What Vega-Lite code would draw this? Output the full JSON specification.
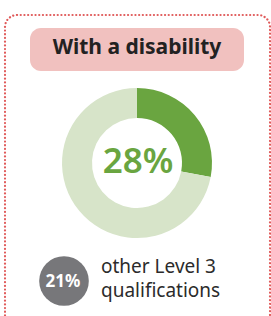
{
  "$schema": "https://vega.github.io/schema/vega-lite/v6.json",
  "width": 271,
  "height": 316,
  "autosize": {"type": "fit", "contains": "padding"},
  "padding": 0,
  "background": "#ffffff",
  "config": {"view": {"stroke": null}},
  "data": {"values": [{"group": "With a disability", "share": 0.28, "other": 0.21, "otherLabel": ["other Level 3", "qualifications"]}]},
  "layer": [
    {
      "mark": {"type": "rect", "x": 5, "x2": 270, "y": 15, "y2": 360, "cornerRadius": 12, "fill": null, "stroke": "#e05a5a", "strokeWidth": 2.2, "strokeDash": [0.1, 3.6], "strokeCap": "round"},
      "encoding": {}
    },
    {
      "mark": {"type": "rect", "x": 30, "x2": 244, "y": 28, "y2": 71, "cornerRadius": 11, "fill": "#f1c1bf"},
      "encoding": {}
    },
    {
      "mark": {"type": "text", "x": 137, "y": 48, "align": "center", "baseline": "middle", "font": "Noto Sans", "fontWeight": "bold", "fontSize": 21, "fill": "#222222"},
      "encoding": {"text": {"field": "group"}}
    },
    {
      "data": {"values": [{"part": "Level 3 qualification", "value": 28}, {"part": "Remaining", "value": 72}]},
      "mark": {"type": "arc", "x": 137, "y": 163, "outerRadius": 75, "innerRadius": 45},
      "encoding": {
        "theta": {"field": "value", "type": "quantitative", "stack": true},
        "order": {"field": "value", "type": "quantitative", "sort": "ascending"},
        "color": {"field": "part", "type": "nominal", "scale": {"domain": ["Level 3 qualification", "Remaining"], "range": ["#6aa540", "#d7e4c9"]}, "legend": null}
      }
    },
    {
      "mark": {"type": "text", "x": 138, "y": 162, "align": "center", "baseline": "middle", "font": "Noto Sans", "fontWeight": 600, "fontSize": 35, "fill": "#6aa540"},
      "encoding": {"text": {"field": "share", "type": "quantitative", "format": ".0%"}}
    },
    {
      "mark": {"type": "point", "x": 64, "y": 281, "shape": "circle", "filled": true, "size": 2463, "fill": "#77777a", "stroke": null, "opacity": 1},
      "encoding": {}
    },
    {
      "mark": {"type": "text", "x": 63, "y": 282, "align": "center", "baseline": "middle", "font": "Noto Sans", "fontWeight": "bold", "fontSize": 17, "fill": "#ffffff"},
      "encoding": {"text": {"field": "other", "type": "quantitative", "format": ".0%"}}
    },
    {
      "mark": {"type": "text", "x": 101, "y": 273, "align": "left", "baseline": "alphabetic", "font": "Noto Sans", "fontSize": 19, "lineHeight": 24, "fill": "#2b2b2b"},
      "encoding": {"text": {"field": "otherLabel"}}
    }
  ]
}
